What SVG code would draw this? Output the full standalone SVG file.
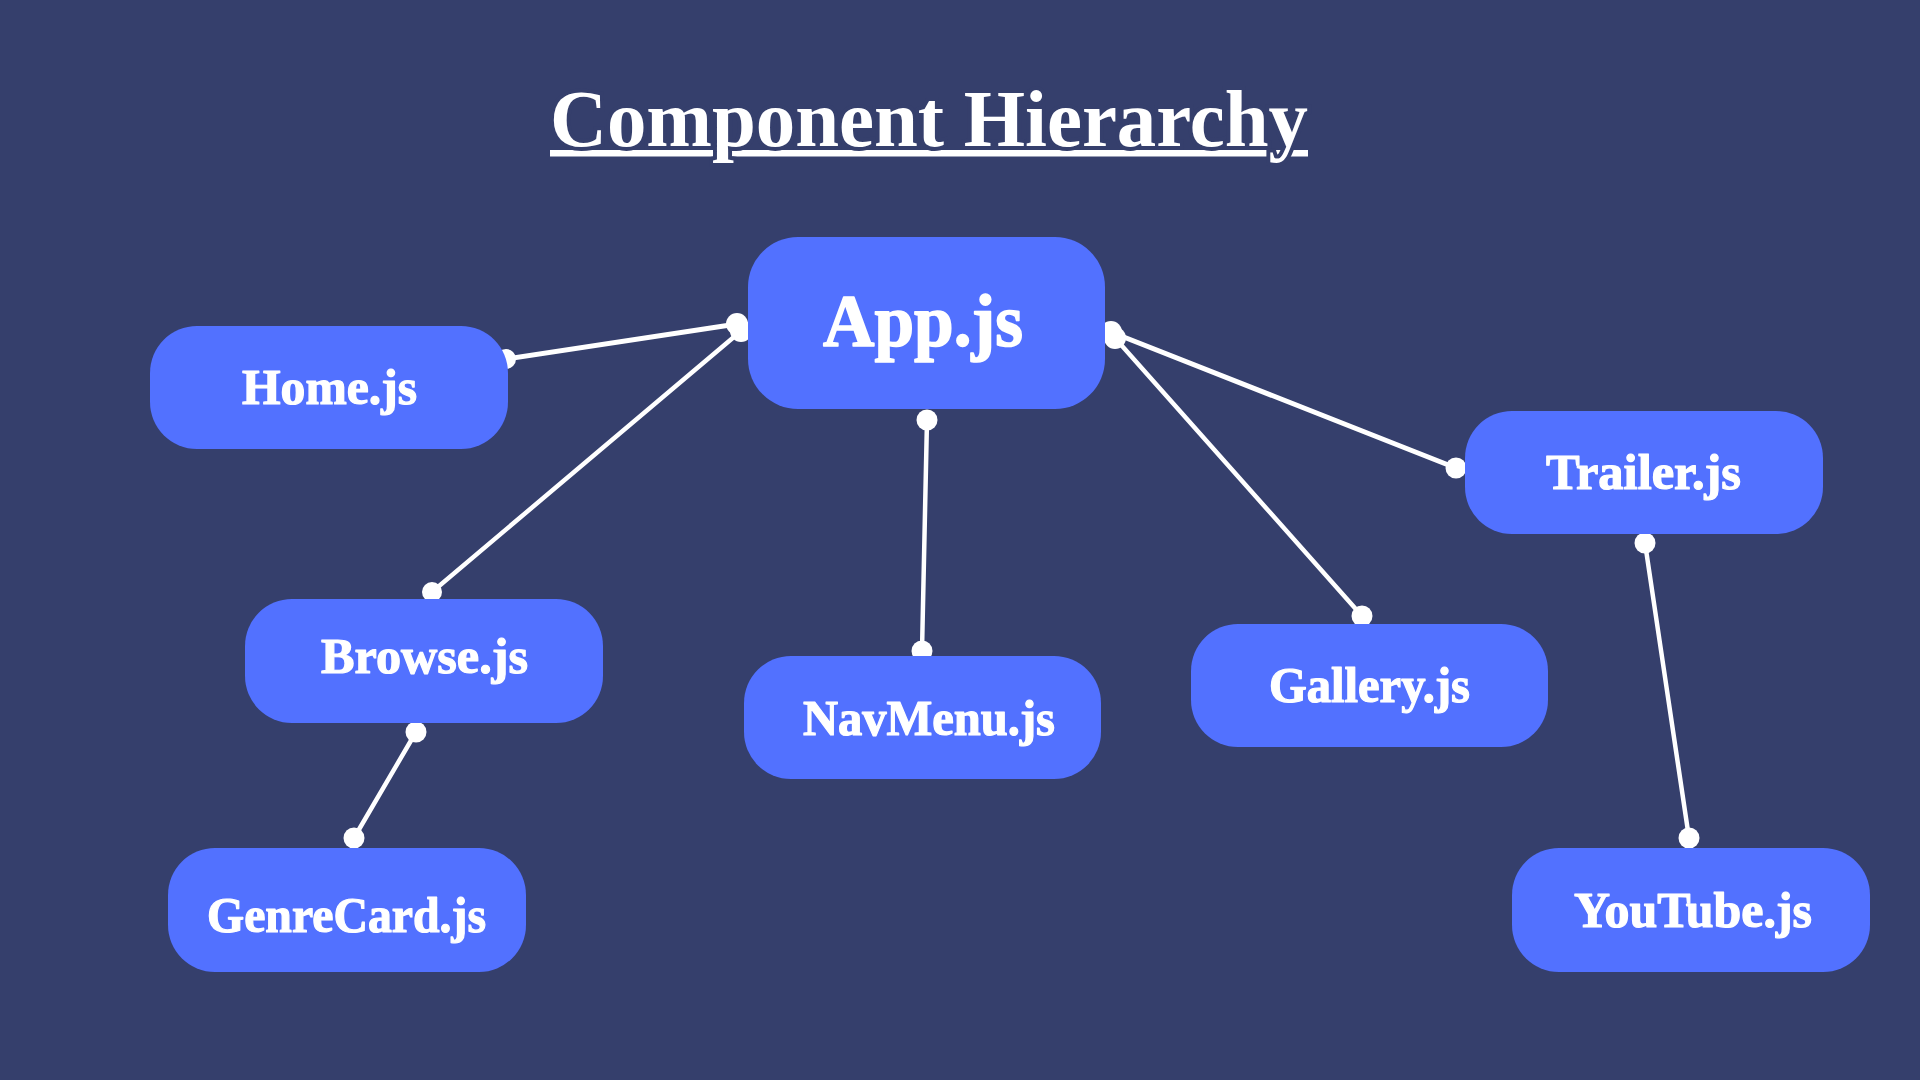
<svg xmlns="http://www.w3.org/2000/svg" width="1920" height="1080" viewBox="0 0 1920 1080">
  <style>
    .node rect { fill: #5271FF; }
    .label { font-family: "Liberation Serif", "DejaVu Serif", serif; font-weight: bold; fill: #FFFFFF; font-size: 50px; stroke: #FFFFFF; stroke-width: 1.2; stroke-linejoin: round; }
    .conn line { stroke: #FFFFFF; stroke-width: 4.5; stroke-linecap: round; }
    .conn circle { fill: #FFFFFF; }
    .title { font-family: "Liberation Serif", "DejaVu Serif", serif; font-weight: bold; fill: #FFFFFF; font-size: 80px; stroke: #353F6C; stroke-width: 8; paint-order: stroke; }
  </style>
  <rect x="0" y="0" width="1920" height="1080" fill="#353F6C"/>

  <g id="title">
    <rect x="550" y="150" width="758" height="6.5" fill="#FFFFFF"/>
    <text class="title" x="550" y="146" textLength="758" lengthAdjust="spacingAndGlyphs">Component Hierarchy</text>
  </g>

  <g id="connectors" class="conn">
    <line x1="506" y1="359" x2="737" y2="324" style="stroke-width:5"/>
    <circle cx="506" cy="359" r="10"/>
    <circle cx="737" cy="324" r="11"/>

    <line x1="432" y1="592" x2="741" y2="331"/>
    <circle cx="432" cy="592" r="10"/>
    <circle cx="741" cy="331" r="11"/>

    <line x1="927" y1="420" x2="922" y2="651"/>
    <circle cx="927" cy="420" r="10.5"/>
    <circle cx="922" cy="651" r="10.5"/>

    <line x1="1115" y1="338" x2="1362" y2="616"/>
    <circle cx="1115" cy="338" r="11"/>
    <circle cx="1362" cy="616" r="10.5"/>

    <line x1="1111" y1="332" x2="1456" y2="468" style="stroke-width:5"/>
    <circle cx="1111" cy="332" r="11"/>
    <circle cx="1456" cy="468" r="10.5"/>

    <line x1="416" y1="732" x2="354" y2="838"/>
    <circle cx="416" cy="732" r="10.5"/>
    <circle cx="354" cy="838" r="10.5"/>

    <line x1="1645" y1="543" x2="1689" y2="838"/>
    <circle cx="1645" cy="543" r="10.5"/>
    <circle cx="1689" cy="838" r="10.5"/>
  </g>

  <g id="node-app" class="node">
    <rect x="748" y="237" width="357" height="172" rx="50" ry="50"/>
    <text class="label" x="823" y="346" style="font-size:75px; stroke-width:1.6" textLength="200" lengthAdjust="spacingAndGlyphs">App.js</text>
  </g>
  <g id="node-home" class="node">
    <rect x="150" y="326" width="358" height="123" rx="47" ry="47"/>
    <text class="label" x="242" y="404" textLength="175" lengthAdjust="spacingAndGlyphs">Home.js</text>
  </g>
  <g id="node-browse" class="node">
    <rect x="245" y="599" width="358" height="124" rx="47" ry="47"/>
    <text class="label" x="321" y="673" textLength="207" lengthAdjust="spacingAndGlyphs">Browse.js</text>
  </g>
  <g id="node-navmenu" class="node">
    <rect x="744" y="656" width="357" height="123" rx="47" ry="47"/>
    <text class="label" x="803" y="735" textLength="252" lengthAdjust="spacingAndGlyphs">NavMenu.js</text>
  </g>
  <g id="node-gallery" class="node">
    <rect x="1191" y="624" width="357" height="123" rx="47" ry="47"/>
    <text class="label" x="1269" y="702" textLength="201" lengthAdjust="spacingAndGlyphs">Gallery.js</text>
  </g>
  <g id="node-trailer" class="node">
    <rect x="1465" y="411" width="358" height="123" rx="47" ry="47"/>
    <text class="label" x="1546" y="489" textLength="195" lengthAdjust="spacingAndGlyphs">Trailer.js</text>
  </g>
  <g id="node-genrecard" class="node">
    <rect x="168" y="848" width="358" height="124" rx="47" ry="47"/>
    <text class="label" x="207" y="932" textLength="279" lengthAdjust="spacingAndGlyphs">GenreCard.js</text>
  </g>
  <g id="node-youtube" class="node">
    <rect x="1512" y="848" width="358" height="124" rx="47" ry="47"/>
    <text class="label" x="1574" y="927" textLength="238" lengthAdjust="spacingAndGlyphs">YouTube.js</text>
  </g>
</svg>
